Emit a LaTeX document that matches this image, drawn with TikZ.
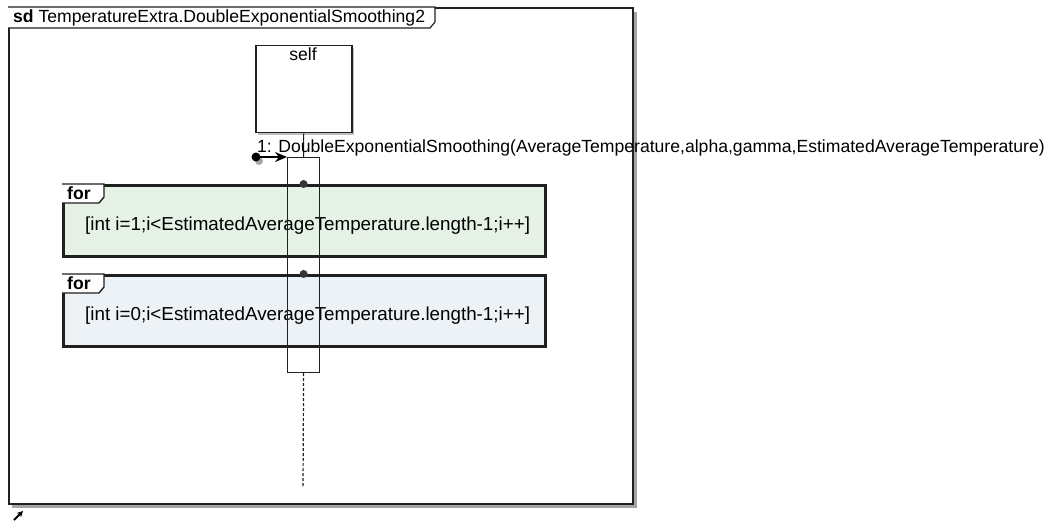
\documentclass[tikz,border=0pt]{standalone}
\usepackage{fontspec}
\setmainfont{Liberation Sans}
\usetikzlibrary{arrows.meta}
\definecolor{loopgreen}{HTML}{E6F2E6}
\definecolor{loopblue}{HTML}{EDF2F7}
\definecolor{shadowgray}{HTML}{A4A4A4}
\definecolor{edge}{HTML}{202020}
\begin{document}
\begin{tikzpicture}[x=1pt,y=-1pt,
  every node/.style={font=\fontsize{17.6}{20}\selectfont},
  box/.style={draw=edge, inner sep=0pt, anchor=north west},
  fragment/.style={box, line width=3pt, minimum width=482pt, minimum height=71pt},
  tabline/.style={draw=edge, line width=1.4pt, fill=white},
  txt/.style={inner sep=0pt},
  guard/.style={txt, anchor=west, font=\fontsize{18.8}{20}\selectfont},
  lifeline/.style={draw=edge, line width=1.2pt, dash pattern=on 3pt off 2pt},
  pin/.style={fill=edge!90}
]
\useasboundingbox (0,0) rectangle (1049,521);
% frame with shadow
\fill[shadowgray] (12,12) rectangle (637,508);
\node[box, line width=2pt, fill=white, minimum width=624pt, minimum height=496pt] (frame) at (8,7) {};
\draw[tabline, line width=1.2pt] (8,7) -- (435,7) -- (435,22) -- (430,28) -- (8,28);
\node[txt, anchor=west] (title) at (13,17.5) {\textbf{sd} TemperatureExtra.DoubleExponentialSmoothing2};
% self lifeline head
\fill[shadowgray!70] (258,48) rectangle (354,135);
\node[box, line width=1.5pt, fill=white, minimum width=96pt, minimum height=87pt] (self) at (255,45) {};
\node[txt] (selflabel) at (303,54) {self};
% fragments
\node[fragment, fill=loopgreen] (loop1) at (62,184) {};
\draw[tabline] (loop1.north west) -- ++(42,0) -- ++(0,13) -- ++(-5,6) -- ++(-37,0);
\node[txt, anchor=west] (for1) at (67,193) {\textbf{for}};
\node[guard] (guard1) at (85,226) {[int i=1;i<EstimatedAverageTemperature.length-1;i++]};
\node[fragment, fill=loopblue] (loop2) at (62,274) {};
\draw[tabline] (loop2.north west) -- ++(42,0) -- ++(0,13) -- ++(-5,6) -- ++(-37,0);
\node[txt, anchor=west] (for2) at (67,283) {\textbf{for}};
\node[guard] (guard2) at (85,316) {[int i=0;i<EstimatedAverageTemperature.length-1;i++]};
% activation bar
\node[box, line width=1.2pt, minimum width=32pt, minimum height=215pt] (bar) at (287,157) {};
% lifeline
\draw[draw=edge, line width=1pt] (self.south) -- (bar.north);
\coordinate (lifeend) at (303,488);
\draw[lifeline] (bar.south) -- (lifeend);
% pins on fragment edges
\fill[pin] (bar.center |- loop1.north) circle (4pt);
\fill[pin] (bar.center |- loop2.north) circle (4pt);
% found message
\coordinate (found) at (256,157);
\fill[gray!70] (259,161) circle (4pt);
\fill[black] (found) circle (4.5pt);
\draw[black, line width=1.8pt, -{Stealth[length=12pt,width=10pt]}] (found) -- (bar.north west);
\node[txt, anchor=base west] (msg) at (257,153) {1: DoubleExponentialSmoothing(AverageTemperature,alpha,gamma,EstimatedAverageTemperature)};
% corner arrow
\coordinate (ca1) at (14,520);
\coordinate (ca2) at (23,511);
\draw[black, line width=2pt, -{Stealth[length=6pt,width=6pt]}] (ca1) -- (ca2);
\end{tikzpicture}
\end{document}
